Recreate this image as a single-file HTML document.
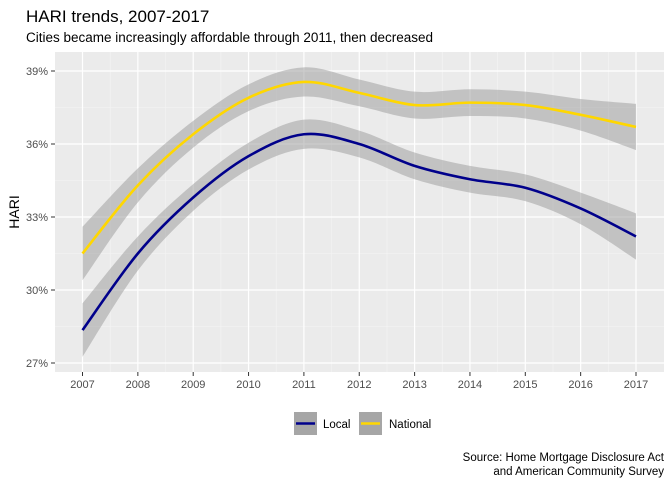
<!DOCTYPE html>
<html><head><meta charset="utf-8"><style>
body{margin:0;background:#fff;font-family:"Liberation Sans",Arial,sans-serif}
</style></head><body>
<svg id="c" width="672" height="480" xmlns="http://www.w3.org/2000/svg">
<text x="26" y="22" font-size="17" fill="#000">HARI trends, 2007-2017</text>
<text x="26" y="42" font-size="13.5" fill="#000">Cities became increasingly affordable through 2011, then decreased</text>
<rect x="55" y="52" width="609" height="320" fill="#ebebeb"/>
<g id="grid"></g><g id="bands"></g><g id="lines"></g><g id="axes"></g>
<text transform="translate(19,212) rotate(-90)" text-anchor="middle" font-size="14">HARI</text>
<g>
<g><rect x="294" y="412" width="23" height="23" fill="#a6a6a6"/><line x1="296" y1="423.5" x2="315" y2="423.5" stroke="#00008b" stroke-width="2.5"/><text x="323" y="428" font-size="11.5">Local</text></g>
<g><rect x="359" y="412" width="23" height="23" fill="#a6a6a6"/><line x1="361" y1="423.5" x2="380" y2="423.5" stroke="#ffd700" stroke-width="2.5"/><text x="389" y="428" font-size="11.5">National</text></g>
</g>
<text x="664" y="461" text-anchor="end" font-size="11.5">Source: Home Mortgage Disclosure Act</text>
<text x="664" y="475" text-anchor="end" font-size="11.5">and American Community Survey</text>
</svg>
<script>
const years=[2007,2008,2009,2010,2011,2012,2013,2014,2015,2016,2017];
const localVals=[28.35,31.5,33.8,35.5,36.4,36.0,35.1,34.55,34.2,33.35,32.2];
const nationalVals=[31.5,34.3,36.4,37.9,38.55,38.1,37.6,37.7,37.6,37.2,36.7];
const bandHalf=[1.1,0.7,0.55,0.55,0.6,0.55,0.55,0.55,0.55,0.65,0.95];
const yTicks=[27,30,33,36,39];
const yTickLabels=["27%","30%","33%","36%","39%"];
const NS="http://www.w3.org/2000/svg";
const X=v=>82.5+(v-2007)*55.35, Y=v=>363-(v-27)*(73/3);
function mk(t,a,p){const e=document.createElementNS(NS,t);for(const k in a)e.setAttribute(k,a[k]);document.getElementById(p).appendChild(e);return e;}
function curve(pts,start){let d=start?"M"+pts[0][0]+","+pts[0][1]:"L"+pts[0][0]+","+pts[0][1];
for(let i=0;i<pts.length-1;i++){const p0=pts[Math.max(i-1,0)],p1=pts[i],p2=pts[i+1],p3=pts[Math.min(i+2,pts.length-1)];
d+=" C"+(p1[0]+(p2[0]-p0[0])/6)+","+(p1[1]+(p2[1]-p0[1])/6)+" "+(p2[0]-(p3[0]-p1[0])/6)+","+(p2[1]-(p3[1]-p1[1])/6)+" "+p2[0]+","+p2[1];}return d;}
for(let i=0;i<yTicks.length-1;i++){const g=mk("line",{x1:55,x2:664,y1:Y((yTicks[i]+yTicks[i+1])/2),y2:Y((yTicks[i]+yTicks[i+1])/2),stroke:"#f5f5f5","stroke-width":0.6},"grid");}
for(let i=0;i<years.length-1;i++){const g=mk("line",{x1:X(years[i]+0.5),x2:X(years[i]+0.5),y1:52,y2:372,stroke:"#f5f5f5","stroke-width":0.6},"grid");}
yTicks.forEach((t,i)=>{const g=mk("line",{x1:55,x2:664,y1:Y(t),y2:Y(t),stroke:"#fff","stroke-width":1.2},"grid");
const tk=mk("line",{x1:51,x2:55,y1:Y(t),y2:Y(t),stroke:"#333"},"axes");
const l=mk("text",{x:48,y:Y(t)+4,"text-anchor":"end","font-size":11,fill:"#4d4d4d"},"axes");l.textContent=yTickLabels[i];});
years.forEach(y=>{const g=mk("line",{x1:X(y),x2:X(y),y1:52,y2:372,stroke:"#fff","stroke-width":1.2},"grid");
const tk=mk("line",{x1:X(y),x2:X(y),y1:372,y2:376,stroke:"#333"},"axes");
const l=mk("text",{x:X(y),y:388,"text-anchor":"middle","font-size":11,fill:"#4d4d4d"},"axes");l.textContent=y;});
[[localVals,"#00008b","local"],[nationalVals,"#ffd700","national"]].forEach(([vals,col,nm])=>{
const up=years.map((y,i)=>[X(y),Y(vals[i]+bandHalf[i])]);
const lo=years.map((y,i)=>[X(y),Y(vals[i]-bandHalf[i])]).reverse();
const b=mk("path",{d:curve(up,true)+" "+curve(lo,false)+"Z",fill:"#999","fill-opacity":0.5},"bands");

const ln=mk("path",{d:curve(years.map((y,i)=>[X(y),Y(vals[i])]),true),fill:"none",stroke:col,"stroke-width":2.6},"lines");
});
</script>
</body></html>
